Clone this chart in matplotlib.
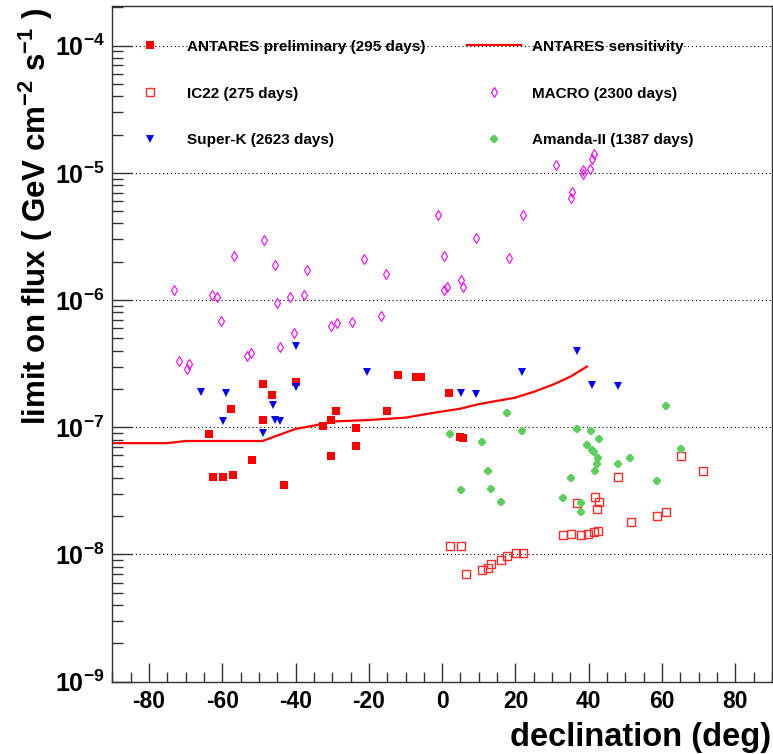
import matplotlib
matplotlib.use('Agg')  # no display
import matplotlib.pyplot as plt
from matplotlib.ticker import MultipleLocator, LogLocator, NullFormatter

# ANTARES preliminary (295 days)
ant_dec = [-63.7, -62.4, -59.9, -57.2, -57.6, -51.8, -48.9, -48.9, -46.3, -43.1, -39.8, -32.4,
           -30.4, -28.9, -30.2, -23.4, -23.4, -15.0, -12.1, -7.1, -5.9, 1.8, 5.0, 5.7]
ant_flux = [8.85e-8, 4.1e-8, 4.1e-8, 4.2e-8, 1.39e-7, 5.5e-8, 2.18e-7, 1.14e-7, 1.79e-7, 3.5e-8,
            2.28e-7, 1.02e-7, 1.14e-7, 1.34e-7, 5.9e-8, 9.9e-8, 7.1e-8, 1.35e-7, 2.59e-7, 2.47e-7,
            2.47e-7, 1.87e-7, 8.4e-8, 8.3e-8]

# IC22 (275 days)
ic22_dec = [2.2, 5.1, 6.4, 10.9, 12.5, 13.4, 16.1, 17.7, 20.2, 22.0, 33.0, 35.1, 38.0, 39.8, 41.3,
            42.6, 51.6, 58.7, 61.2, 48.0, 36.8, 41.6, 42.9, 42.2, 65.2, 71.3]
ic22_flux = [1.17e-8, 1.17e-8, 7.0e-9, 7.6e-9, 7.8e-9, 8.4e-9, 9.05e-9, 9.7e-9, 1.03e-8, 1.03e-8,
             1.42e-8, 1.45e-8, 1.42e-8, 1.46e-8, 1.51e-8, 1.54e-8, 1.79e-8, 2.0e-8, 2.17e-8,
             4.05e-8, 2.53e-8, 2.82e-8, 2.59e-8, 2.28e-8, 5.95e-8, 4.51e-8]

# Super-K (2623 days)
sk_dec = [-65.9, -59.1, -59.8, -48.9, -46.2, -45.6, -44.3, -39.8, -39.8, -20.4, 5.2, 9.3, 21.9,
          36.7, 40.9, 48.0]
sk_flux = [1.9e-7, 1.85e-7, 1.11e-7, 9.0e-8, 1.5e-7, 1.14e-7, 1.11e-7, 4.36e-7, 2.06e-7, 2.72e-7,
           1.87e-7, 1.83e-7, 2.72e-7, 4.0e-7, 2.15e-7, 2.11e-7]

# ANTARES sensitivity
sens_dec = [-90, -75, -70, -49, -45, -40, -35, -30, -20, -10, -3, 5, 10, 20, 25, 30, 35, 39.5]
sens_flux = [7.5e-8, 7.5e-8, 7.8e-8, 7.8e-8, 8.6e-8, 9.7e-8, 1.03e-7, 1.11e-7, 1.14e-7, 1.19e-7,
             1.29e-7, 1.40e-7, 1.52e-7, 1.71e-7, 1.9e-7, 2.15e-7, 2.5e-7, 3.0e-7]

# MACRO (2300 days)
macro_dec = [-73.3, -62.7, -61.5, -56.8, -60.4, -71.7, -69.0, -69.5, -48.7, -45.5, -45.1, -41.6,
             -36.8, -37.8, -40.3, -44.3, -53.2, -52.2, -30.4, -28.7, -24.5, -21.3, -15.4, -16.8,
             -1.0, 0.6, 1.3, 0.6, 5.2, 5.8, 9.1, 18.3, 22.0, 31.0, 35.4, 35.1, 38.3, 38.3, 40.3,
             40.9, 41.3]
macro_flux = [1.19e-6, 1.10e-6, 1.05e-6, 2.22e-6, 6.85e-7, 3.30e-7, 3.13e-7, 2.89e-7, 2.98e-6,
              1.88e-6, 9.4e-7, 1.05e-6, 1.73e-6, 1.10e-6, 5.5e-7, 4.3e-7, 3.6e-7, 3.84e-7, 6.3e-7,
              6.6e-7, 6.7e-7, 2.12e-6, 1.61e-6, 7.5e-7, 4.69e-6, 2.22e-6, 1.27e-6, 1.20e-6,
              1.43e-6, 1.27e-6, 3.06e-6, 2.13e-6, 4.69e-6, 1.15e-5, 7.1e-6, 6.3e-6, 1.05e-5,
              9.75e-6, 1.08e-5, 1.28e-5, 1.41e-5]

# Amanda-II (1387 days)
amanda_dec = [17.7, 2.2, 10.9, 21.9, 12.5, 13.4, 5.1, 16.0, 36.7, 40.6, 42.9, 39.5, 41.0, 41.3,
              42.5, 42.2, 41.6, 48.0, 51.2, 35.1, 32.9, 38.0, 38.0, 58.7, 61.2, 65.1]
amanda_flux = [1.30e-7, 8.8e-8, 7.7e-8, 9.35e-8, 4.5e-8, 3.27e-8, 3.2e-8, 2.6e-8, 9.75e-8, 9.35e-8,
               8.05e-8, 7.26e-8, 6.63e-8, 6.36e-8, 5.7e-8, 5.1e-8, 4.5e-8, 5.15e-8, 5.74e-8,
               3.97e-8, 2.77e-8, 2.53e-8, 2.17e-8, 3.8e-8, 1.47e-7, 6.8e-8]

plt.rcParams['font.family'] = ['Liberation Sans', 'DejaVu Sans']
plt.rcParams['font.weight'] = 'bold'
plt.rcParams['axes.labelweight'] = 'bold'
plt.rcParams['mathtext.fontset'] = 'custom'
plt.rcParams['mathtext.rm'] = 'Liberation Sans:bold'
plt.rcParams['mathtext.bf'] = 'Liberation Sans:bold'
plt.rcParams['mathtext.it'] = 'Liberation Sans:bold:italic'
plt.rcParams['axes.unicode_minus'] = False

fig = plt.figure(figsize=(7.73, 7.54), dpi=100)
ax = fig.add_axes([0.1453, 0.0959, 0.8534, 0.8962])

h_ant, = ax.plot(ant_dec, ant_flux, 's', color='#ff0000', ms=5.5, mew=0, ls='none',
                 label='ANTARES preliminary (295 days)')
h_ic, = ax.plot(ic22_dec, ic22_flux, 's', color='#ff2a2a', mfc='none', ms=6, mew=1.0, ls='none',
                label='IC22 (275 days)')
h_sk, = ax.plot(sk_dec, sk_flux, 'v', color='#0000ff', ms=6, mew=0, ls='none',
                label='Super-K (2623 days)')
h_sens, = ax.plot(sens_dec, sens_flux, '-', color='#ff0000', lw=1.6, label='ANTARES sensitivity')
h_mac, = ax.plot(macro_dec, macro_flux, 'd', color='#ff00ff', mfc='none', ms=5.5, mew=0.8,
                 ls='none', label='MACRO (2300 days)')
h_am, = ax.plot(amanda_dec, amanda_flux, '8', color='#5ccf5c', ms=5.6, mew=0, ls='none',
                label='Amanda-II (1387 days)')

ax.set_yscale('log')
ax.set_xlim(-90, 90)
ax.set_ylim(1e-9, 2.05e-4)

ax.xaxis.set_major_locator(MultipleLocator(20))
ax.xaxis.set_minor_locator(MultipleLocator(5))
ax.yaxis.set_major_locator(LogLocator(base=10, numticks=10))
ax.yaxis.set_minor_locator(LogLocator(base=10, subs=range(2, 10), numticks=20))
ax.yaxis.set_minor_formatter(NullFormatter())

ax.tick_params(which='both', direction='in', top=False, right=False, width=1, color='#333333')
ax.tick_params(axis='x', which='major', length=14, labelsize=16.5, pad=5.8)
ax.tick_params(axis='x', which='minor', length=7)
ax.tick_params(axis='y', which='major', length=14.5, labelsize=18, pad=5.5)
ax.tick_params(axis='y', which='minor', length=7.7)

for s in ax.spines.values():
    s.set_color('#333333')
    s.set_linewidth(1.0)

ax.yaxis.grid(True, which='major', color='black', linestyle=(0, (1, 2.5)), linewidth=0.8)
ax.set_axisbelow(True)

ax.set_xlabel('declination (deg)', fontsize=23.5, loc='right')
ax.xaxis.set_label_coords(0.999, -0.06)
ax.set_ylabel('limit on flux ( GeV cm$^{-2}$ s$^{-1}$ )', fontsize=22.5, loc='top')
ax.yaxis.set_label_coords(-0.087, 0.997)

ax.legend(handles=[h_ant, h_ic, h_sk, h_sens, h_mac, h_am], ncol=2, frameon=False,
          loc='upper left', bbox_to_anchor=(0.016, 0.950), borderpad=0, borderaxespad=0,
          fontsize=11, numpoints=1, handlelength=3.5, handletextpad=0.72,
          columnspacing=2.7, labelspacing=2.15)

fig.savefig('out.png', dpi=100)
